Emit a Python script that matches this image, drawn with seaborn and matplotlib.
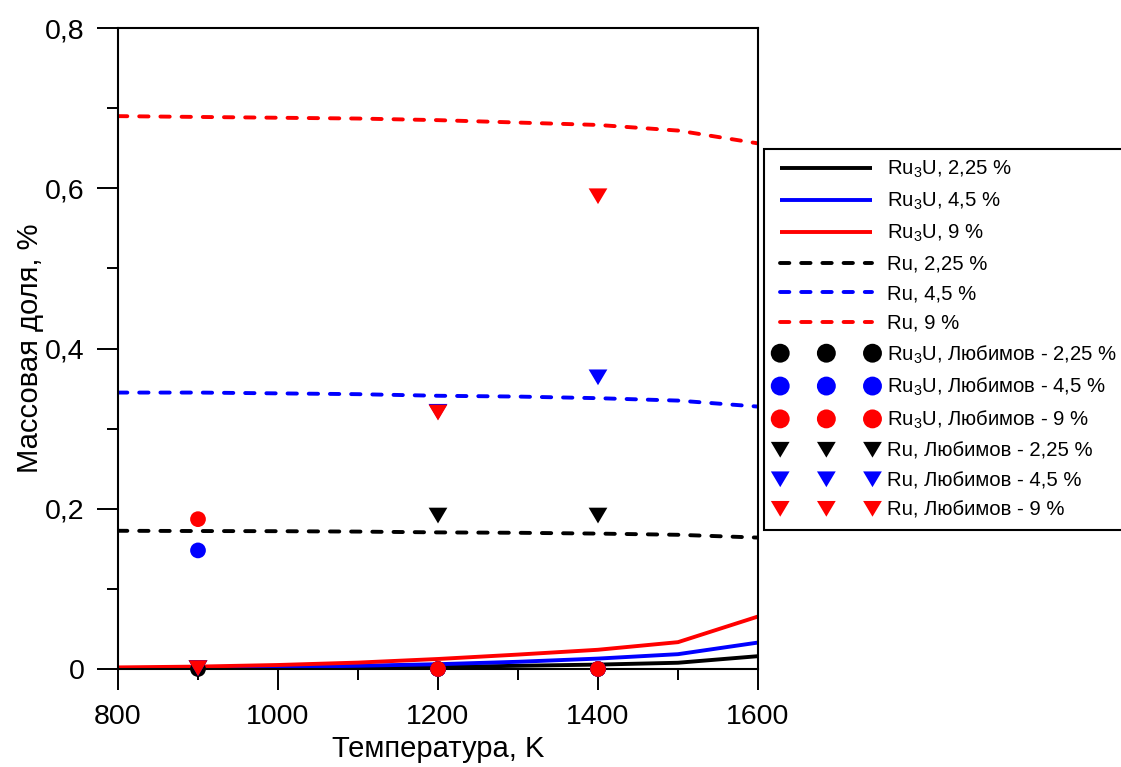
import numpy as np
import pandas as pd
import matplotlib
matplotlib.use("Agg")
import matplotlib.pyplot as plt
import seaborn as sns
from matplotlib.path import Path
from matplotlib.ticker import FixedLocator, MultipleLocator

sns.set_style("ticks")
plt.rcParams["font.family"] = ["Liberation Sans", "DejaVu Sans"]
plt.rcParams["mathtext.fontset"] = "custom"
plt.rcParams["mathtext.rm"] = "Liberation Sans"
plt.rcParams["mathtext.it"] = "Liberation Sans:italic"
plt.rcParams["mathtext.bf"] = "Liberation Sans:bold"
plt.rcParams["text.color"] = "black"
plt.rcParams["axes.labelcolor"] = "black"
plt.rcParams["xtick.color"] = "black"
plt.rcParams["ytick.color"] = "black"

# ---------------- data ----------------
temps = [800, 900, 1000, 1100, 1200, 1300, 1400, 1500, 1600]

ru3u_225 = [0.0003, 0.0006, 0.001, 0.0015, 0.0025, 0.004, 0.0055, 0.0078, 0.016]
ru3u_45 = [0.001, 0.0015, 0.0025, 0.004, 0.006, 0.009, 0.013, 0.0185, 0.033]
ru3u_9 = [0.002, 0.003, 0.005, 0.008, 0.0125, 0.018, 0.024, 0.0335, 0.0655]

ru_225 = [0.1725, 0.1722, 0.172, 0.1715, 0.1705, 0.170, 0.169, 0.1675, 0.164]
ru_45 = [0.345, 0.345, 0.344, 0.343, 0.341, 0.340, 0.338, 0.335, 0.3275]
ru_9 = [0.690, 0.689, 0.688, 0.687, 0.685, 0.682, 0.679, 0.672, 0.656]

exp_temps = [900, 1200, 1400]
lyub_ru3u_225 = [0.0, 0.0, 0.0]
lyub_ru3u_45 = [0.148, 0.0, 0.0]
lyub_ru3u_9 = [0.187, 0.0, 0.0]
lyub_ru_225 = [0.001, 0.1915, 0.1915]
lyub_ru_45 = [0.001, 0.321, 0.364]
lyub_ru_9 = [0.001, 0.320, 0.590]

x_ticks = [800, 1000, 1200, 1400, 1600]
y_ticks = [0.0, 0.2, 0.4, 0.6, 0.8]
y_tick_labels = ["0", "0,2", "0,4", "0,6", "0,8"]

colors = {"2,25": "#000000", "4,5": "#0000ff", "9": "#ff0000"}

# ---------------- figure ----------------
W, H = 1121, 767
fig = plt.figure(figsize=(W / 100, H / 100), dpi=100)
ax = fig.add_axes([118 / W, 1 - 669 / H, 640 / W, 641 / H])

lw = 2.8
dash = (0, (2.4, 3.05))

for vals, key in [(ru3u_225, "2,25"), (ru3u_45, "4,5"), (ru3u_9, "9")]:
    sns.lineplot(x=temps, y=vals, color=colors[key], linewidth=lw, ax=ax,
                 label=f"Ru$_3$U, {key} %", solid_capstyle="butt")
for vals, key in [(ru_225, "2,25"), (ru_45, "4,5"), (ru_9, "9")]:
    sns.lineplot(x=temps, y=vals, color=colors[key], linewidth=lw, ax=ax,
                 linestyle=dash, dash_capstyle="round", label=f"Ru, {key} %")

tri = Path([(-1.0, 0.84), (1.0, 0.84), (0.0, -0.84), (-1.0, 0.84)],
           [Path.MOVETO, Path.LINETO, Path.LINETO, Path.CLOSEPOLY])

for vals, key in [(lyub_ru3u_225, "2,25"), (lyub_ru3u_45, "4,5"), (lyub_ru3u_9, "9")]:
    sns.scatterplot(x=exp_temps, y=vals, color=colors[key], marker="o", s=128,
                    linewidth=0, edgecolor="none", ax=ax, clip_on=False, zorder=4,
                    label=f"Ru$_3$U, Любимов - {key} %")
for vals, key in [(lyub_ru_225, "2,25"), (lyub_ru_45, "4,5"), (lyub_ru_9, "9")]:
    sns.scatterplot(x=exp_temps, y=vals, color=colors[key], marker=tri, s=182,
                    linewidth=0, edgecolor="none", ax=ax, clip_on=False, zorder=4,
                    label=f"Ru, Любимов - {key} %")

ax.set_xlim(800, 1600)
ax.set_ylim(0, 0.8)
ax.xaxis.set_major_locator(FixedLocator(x_ticks))
ax.xaxis.set_minor_locator(MultipleLocator(100))
ax.yaxis.set_major_locator(FixedLocator(y_ticks))
ax.set_yticklabels(y_tick_labels)
ax.yaxis.set_minor_locator(MultipleLocator(0.1))
ax.tick_params(which="major", direction="out", length=15, width=1.4,
               labelsize=20.5, color="black", labelcolor="black")
ax.tick_params(axis="x", which="major", pad=10)
ax.tick_params(axis="y", which="major", pad=9)
ax.tick_params(which="minor", direction="out", length=8, width=1.4, color="black")
for sp in ax.spines.values():
    sp.set_visible(True)
    sp.set_linewidth(1.5)
    sp.set_color("black")

ax.set_xlabel("Температура, K", fontsize=21, labelpad=4, color="black")
ax.set_ylabel("Массовая доля, %", fontsize=21, labelpad=1, color="black")

leg = ax.legend(loc="upper left", bbox_to_anchor=(764 / W, 1 - 149 / H),
                bbox_transform=fig.transFigure, fontsize=14.6, handlelength=5.15,
                numpoints=3, scatterpoints=3, scatteryoffsets=[0.5],
                frameon=True, fancybox=False, edgecolor="black", framealpha=1,
                borderpad=0.5, labelspacing=0.52, handletextpad=0.4,
                borderaxespad=0)
leg.get_frame().set_linewidth(1.5)
for t in leg.get_texts():
    t.set_color("black")
for h in leg.legend_handles[6:9]:
    h.set_sizes([185])

fig.savefig("out.png", dpi=100)
